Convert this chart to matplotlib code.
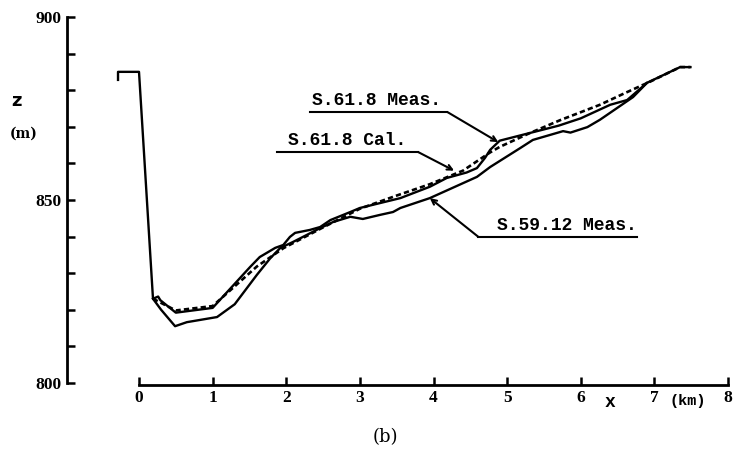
import matplotlib.pyplot as plt

# bed profiles: distance x (km), elevation z (m)
x_meas_618 = [-0.285, -0.285, 0.0, 0.19, 0.26, 0.29, 0.5, 1.0, 1.51, 1.64, 1.85, 1.96,
              2.05, 2.12, 2.32, 2.46, 2.6, 2.87, 3.0, 3.55, 3.95, 4.18, 4.45, 4.59,
              4.7, 4.77, 4.9, 5.31, 5.7, 6.0, 6.4, 6.63, 6.9, 7.35, 7.49]
z_meas_618 = [882.8, 885.0, 885.0, 823.0, 823.6, 822.6, 819.2, 820.5, 831.7, 834.4, 836.9, 837.7,
              839.9, 841.0, 841.8, 842.6, 844.5, 846.7, 847.8, 850.5, 853.6, 856.0, 857.5, 858.7,
              861.5, 863.7, 866.2, 868.3, 870.3, 872.3, 876.0, 877.3, 882.0, 886.3, 886.3]

x_cal_618 = [0.19, 0.5, 1.0, 1.6, 1.96, 2.5, 3.0, 3.5, 3.95, 4.4, 4.77, 4.9,
             5.3, 5.72, 6.26, 6.6, 6.94, 7.35, 7.49]
z_cal_618 = [823.0, 819.8, 821.0, 831.8, 836.8, 842.5, 847.6, 851.2, 854.3, 858.0, 863.0, 864.5,
             868.2, 871.8, 876.0, 879.2, 882.3, 886.3, 886.3]

x_meas_5912 = [0.19, 0.3, 0.49, 0.65, 1.06, 1.3, 1.6, 1.78, 1.92, 2.09, 2.46, 2.64,
               2.87, 3.04, 3.27, 3.45, 3.55, 3.95, 4.59, 4.77, 5.18, 5.35, 5.76, 5.86,
               6.09, 6.26, 6.71, 6.9]
z_meas_5912 = [823.0, 820.0, 815.5, 816.6, 818.0, 821.5, 829.5, 834.0, 836.9, 838.5, 842.3, 844.0,
               845.4, 844.8, 845.9, 846.7, 847.8, 850.5, 856.3, 859.0, 864.2, 866.4, 868.8, 868.4,
               869.9, 871.9, 878.1, 882.0]

x_ticks = [0, 1, 2, 3, 4, 5, 6, 7, 8]
z_ticks = [800, 850, 900]

fig = plt.figure(figsize=(7.42, 4.55), dpi=100)
ax = fig.add_axes([60 / 742, 1 - 395 / 455, 675 / 742, 385 / 455])
ax.set_xlim(-1.073, 8.095)
ax.set_ylim(796.7, 901.9)

ax.plot(x_meas_618, z_meas_618, color='black', lw=1.7)
ax.plot(x_meas_5912, z_meas_5912, color='black', lw=1.7)
ax.plot(x_cal_618, z_cal_618, color='black', lw=1.9, linestyle=(0, (2, 1.2)))

# detached axes
for side in ['top', 'right']:
    ax.spines[side].set_visible(False)
ax.spines['left'].set_position(('data', -0.98))
ax.spines['left'].set_bounds(800, 900)
ax.spines['bottom'].set_position(('data', 799.5))
ax.spines['bottom'].set_bounds(0, 8)
for side in ['left', 'bottom']:
    ax.spines[side].set_linewidth(2)

ax.set_yticks(z_ticks)
ax.set_yticks(range(810, 900, 10), minor=True)
ax.set_xticks(x_ticks)
ax.tick_params(axis='both', which='both', direction='in', width=1.8, length=6)
ax.tick_params(axis='y', pad=4)
ax.tick_params(axis='x', pad=4)
tick_font = dict(family='Liberation Serif', weight='bold', size=12.5)
ax.set_yticklabels([str(v) for v in z_ticks], **tick_font)
ax.set_xticklabels([str(v) for v in x_ticks], **tick_font)

# axis names
ax.text(-1.74, 875.6, 'z', fontsize=13, fontweight='bold', family='DejaVu Sans',
        clip_on=False)
ax.text(-1.76, 867.0, '(m)', fontsize=10, fontweight='bold', family='DejaVu Serif',
        clip_on=False)
ax.text(6.4, 793.3, 'x', fontsize=13, fontweight='bold', family='Liberation Mono',
        ha='center', clip_on=False)
ax.text(7.45, 793.9, '(km)', fontsize=11, fontweight='bold', family='Liberation Mono',
        ha='center', clip_on=False)
fig.text(385 / 742, 1 - 437 / 455, '(b)', fontsize=13, family='DejaVu Serif',
         ha='center', va='center')

# curve labels: text, underline span, underline level, text start, leader start, leader target
label_font = dict(family='Liberation Mono', weight='bold', size=13)
labels = [
    ('S.61.8 Meas.', (2.32, 4.19), 874.0, 2.35, 4.19, (4.88, 865.8)),
    ('S.61.8 Cal.', (1.87, 3.79), 863.1, 2.02, 3.79, (4.28, 858.0)),
    ('S.59.12 Meas.', (4.61, 6.77), 839.9, 4.86, 4.61, (3.95, 850.5)),
]
for text, (x0, x1), z_line, tx, lx, target in labels:
    ax.plot([x0, x1], [z_line, z_line], color='black', lw=1.5)
    ax.text(tx, z_line + 2.0, text, ha='left', va='baseline', **label_font)
    ax.annotate('', xy=target, xytext=(lx, z_line),
                arrowprops=dict(arrowstyle='->', lw=1.5, mutation_scale=9,
                                shrinkA=0, shrinkB=0, color='black'))

fig.savefig('out.png', dpi=100)
